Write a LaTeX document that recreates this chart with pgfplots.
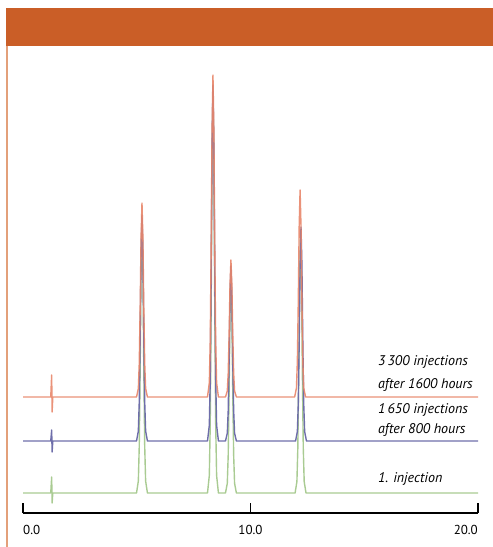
\documentclass[border=0pt]{standalone}
\usepackage{fontspec}
\setmainfont{PT Sans}
\usepackage{pgfplots}
\pgfplotsset{compat=1.18}
\definecolor{hdr}{HTML}{CA5E27}
\definecolor{lft}{HTML}{E3A07A}
\definecolor{tor}{HTML}{E8866A}
\definecolor{tbl}{HTML}{6E6EAA}
\definecolor{tgr}{HTML}{A9CB92}
\begin{document}
\begin{tikzpicture}[x=1pt,y=1pt]
\useasboundingbox (0,0) rectangle (493,547);
\fill[hdr] (6,501) rectangle (493,539);
\draw[lft, line width=2pt] (7,501) -- (7,0);
\begin{axis}[
  at={(23pt,34pt)}, anchor=south west,
  scale only axis, width=455pt, height=467pt,
  xmin=0, xmax=20, ymin=0, ymax=467,
  axis x line*=bottom, axis y line=none,
  x axis line style={-, line width=1.1pt, black},
  xtick={0,10,20}, xticklabels={},
  tick align=inside, major tick length=10pt,
  tick style={line width=1.1pt, black},
  clip=false,
  every axis plot/.append style={line width=1.4pt, line join=round},
  font=\fontsize{13}{15}\selectfont,
]
% green: 1. injection
\addplot[tgr] coordinates {
(0,20) (1.22,20) (1.26,36) (1.28,10) (1.31,20)
(4.99,20) (5.07,32.0) (5.11,66.8) (5.15,144.6) (5.19,243.9) (5.23,292) (5.27,243.9) (5.31,144.6) (5.35,66.8) (5.39,32.0) (5.47,20)
(8.11,20) (8.19,37.6) (8.23,88.8) (8.27,203.2) (8.31,349.2) (8.35,420) (8.39,349.2) (8.43,203.2) (8.47,88.8) (8.51,37.6) (8.59,20)
(8.90,20) (8.98,29.7) (9.02,57.8) (9.06,120.8) (9.10,201.1) (9.14,240) (9.18,201.1) (9.22,120.8) (9.26,57.8) (9.30,29.7) (9.38,20)
(11.96,20) (12.04,31.4) (12.08,64.7) (12.12,139.1) (12.16,234.0) (12.20,280) (12.24,234.0) (12.28,139.1) (12.32,64.7) (12.36,31.4) (12.44,20)
(20,20)};
% blue: 1650 injections
\addplot[tbl] coordinates {
(0,72) (1.22,72) (1.26,83) (1.28,61) (1.31,72)
(4.99,72) (5.07,81.9) (5.11,110.9) (5.15,175.5) (5.19,258) (5.23,298) (5.27,258) (5.31,175.5) (5.35,110.9) (5.39,81.9) (5.47,72)
(8.11,72) (8.19,87.7) (8.23,133.2) (8.27,235) (8.31,365) (8.35,428) (8.39,365) (8.43,235) (8.47,133.2) (8.51,87.7) (8.59,72)
(8.90,72) (8.98,79.7) (9.02,102.1) (9.06,152.2) (9.10,216.0) (9.14,247) (9.18,216.0) (9.22,152.2) (9.26,102.1) (9.30,79.7) (9.38,72)
(11.98,72) (12.06,81.4) (12.10,108.8) (12.14,170.0) (12.18,248.1) (12.22,286) (12.26,248.1) (12.30,170.0) (12.34,108.8) (12.38,81.4) (12.46,72)
(20,72)};
% orange: 3300 injections
\addplot[tor, opacity=0.9] coordinates {
(0,116) (1.22,116) (1.26,138) (1.28,101) (1.31,116)
(4.99,116) (5.07,124.5) (5.11,149.4) (5.15,204.9) (5.19,275.7) (5.23,310) (5.27,275.7) (5.31,204.9) (5.35,149.4) (5.39,124.5) (5.47,116)
(8.11,116) (8.19,130.2) (8.23,171.4) (8.27,263.5) (8.31,381) (8.35,438) (8.39,381) (8.43,263.5) (8.47,171.4) (8.51,130.2) (8.59,116)
(8.90,116) (8.98,122.0) (9.02,139.6) (9.06,178.7) (9.10,228.8) (9.14,253) (9.18,228.8) (9.22,178.7) (9.26,139.6) (9.30,122.0) (9.38,116)
(11.94,116) (12.02,125.1) (12.06,151.6) (12.10,210.8) (12.14,286.4) (12.18,323) (12.22,286.4) (12.26,210.8) (12.30,151.6) (12.34,125.1) (12.42,116)
(20,116)};
\node[anchor=west, inner sep=0pt, font=\fontsize{14}{16}\selectfont\itshape] at (axis cs:15.6,151) {3\,300 injections};
\node[anchor=west, inner sep=0pt, font=\fontsize{14}{16}\selectfont\itshape] at (axis cs:15.6,128) {after 1600 hours};
\node[anchor=west, inner sep=0pt, font=\fontsize{14}{16}\selectfont\itshape] at (axis cs:15.6,103) {1\,650 injections};
\node[anchor=west, inner sep=0pt, font=\fontsize{14}{16}\selectfont\itshape] at (axis cs:15.6,83) {after 800 hours};
\node[anchor=west, inner sep=0pt, font=\fontsize{14}{16}\selectfont\itshape] at (axis cs:15.6,34) {1. injection};
\node[anchor=west, inner sep=0pt] at (axis cs:0,-17) {0.0};
\node[anchor=center, inner sep=0pt] at (axis cs:10,-17) {10.0};
\node[anchor=east, inner sep=0pt] at (axis cs:20,-17) {20.0};
\end{axis}
\end{tikzpicture}
\end{document}
